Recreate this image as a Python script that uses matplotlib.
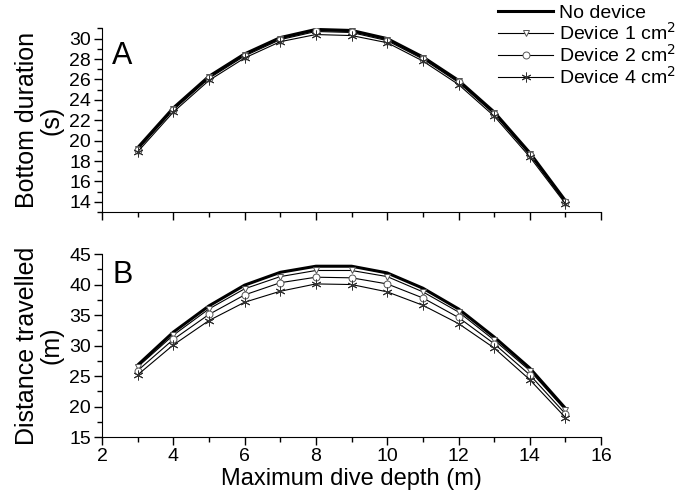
import numpy as np
import matplotlib.pyplot as plt
from matplotlib.ticker import MultipleLocator

plt.rcParams['font.family'] = ['Liberation Sans', 'DejaVu Sans']

# Maximum dive depth (m)
depth = [3, 4, 5, 6, 7, 8, 9, 10, 11, 12, 13, 14, 15]

# A: bottom duration (s)
bottom_none = [19.3, 23.2, 26.3, 28.5, 30.1, 30.9, 30.8, 30.0, 28.2, 25.9, 22.8, 18.8, 14.1]
bottom_dev1 = [19.2, 23.1, 26.2, 28.4, 30.0, 30.8, 30.7, 29.9, 28.1, 25.8, 22.7, 18.7, 14.0]
bottom_dev2 = [19.1, 23.0, 26.1, 28.3, 29.9, 30.7, 30.6, 29.8, 28.0, 25.7, 22.6, 18.6, 13.95]
bottom_dev4 = [18.9, 22.8, 25.9, 28.1, 29.7, 30.4, 30.3, 29.6, 27.8, 25.5, 22.4, 18.4, 13.8]

# B: distance travelled (m)
dist_none = [26.8, 32.2, 36.5, 39.9, 42.0, 43.0, 43.0, 41.9, 39.4, 36.0, 31.4, 26.3, 19.7]
dist_dev1 = [26.5, 31.7, 36.0, 39.3, 41.3, 42.3, 42.3, 41.3, 38.8, 35.5, 30.9, 25.9, 19.4]
dist_dev2 = [25.9, 31.0, 35.1, 38.3, 40.3, 41.2, 41.1, 40.1, 37.8, 34.6, 30.3, 25.2, 18.8]
dist_dev4 = [25.2, 30.1, 34.1, 37.1, 38.9, 40.1, 40.0, 38.8, 36.6, 33.6, 29.6, 24.4, 18.2]

labels = ['No device', 'Device 1 cm$^2$', 'Device 2 cm$^2$', 'Device 4 cm$^2$']

fig = plt.figure(figsize=(6.87, 5.03), dpi=100)
axA = fig.add_axes([0.1485, 0.5785, 0.7265, 0.365])
axB = fig.add_axes([0.1485, 0.131, 0.7265, 0.364])

asterisk = (6, 2, 0)
styles = [
    dict(color='black', lw=2.2, marker=None),
    dict(color='black', lw=0.8, marker='v', ms=5, mfc='white', mec='#555555', mew=0.7),
    dict(color='black', lw=0.8, marker='o', ms=5, mfc='white', mec='#555555', mew=0.7),
    dict(color='black', lw=0.8, marker=asterisk, ms=7, mec='#333333', mew=0.7),
]

handles = []
for ax, series in [(axA, [bottom_none, bottom_dev1, bottom_dev2, bottom_dev4]),
                   (axB, [dist_none, dist_dev1, dist_dev2, dist_dev4])]:
    hs = []
    for vals, st, lab in zip(series, styles, labels):
        h, = ax.plot(depth, vals, label=lab, **st)
        hs.append(h)
    handles = hs
    for s in ['top', 'right']:
        ax.spines[s].set_visible(False)
    ax.set_xlim(2, 16)
    ax.xaxis.set_major_locator(MultipleLocator(2))
    ax.xaxis.set_minor_locator(MultipleLocator(1))
    ax.tick_params(which='major', direction='out', length=6, width=1, labelsize=14, pad=2)
    ax.tick_params(which='minor', direction='out', length=3.5, width=1)

axA.set_ylim(13, 31)
axA.yaxis.set_minor_locator(MultipleLocator(1))
axA.set_yticks(np.arange(14, 31, 2))
axA.tick_params(axis='x', labelbottom=False)
axA.set_ylabel('Bottom duration\n(s)', fontsize=18, linespacing=1.05, labelpad=4)
axA.text(0.02, 0.93, 'A', transform=axA.transAxes, fontsize=22, va='top')

axB.set_ylim(15, 45)
axB.yaxis.set_major_locator(MultipleLocator(5))
axB.yaxis.set_minor_locator(MultipleLocator(2.5))
axB.set_ylabel('Distance travelled\n(m)', fontsize=18, linespacing=1.05, labelpad=4)
axB.set_xlabel('Maximum dive depth (m)', fontsize=17, labelpad=2)
axB.text(0.02, 0.97, 'B', transform=axB.transAxes, fontsize=22, va='top')

fig.align_ylabels([axA, axB])

fig.legend(handles=handles, loc='upper right', bbox_to_anchor=(1.0, 1.015),
           frameon=False, fontsize=14, handlelength=2.8, handletextpad=0.3,
           labelspacing=0.0, borderaxespad=0.2)

fig.savefig('out.png', dpi=100)
